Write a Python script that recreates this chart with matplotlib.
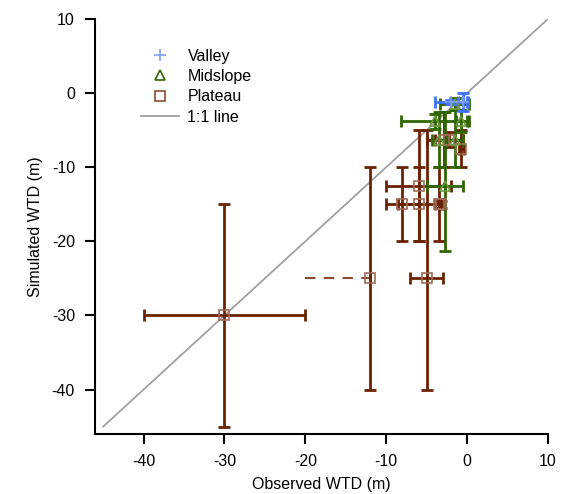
import numpy as np
import matplotlib
matplotlib.use("Agg")
import matplotlib.pyplot as plt
from matplotlib.lines import Line2D

plt.rcParams['font.family'] = ['Liberation Sans', 'DejaVu Sans']
plt.rcParams['axes.unicode_minus'] = False

# Valley sites: observed, simulated, x error, y error
valley_obs = [-2.0, -0.5]
valley_sim = [-1.2, -1.2]
valley_xerr = [2.0, 0.6]
valley_yerr = [0.3, 1.2]

# Midslope sites
mid_obs = [-4.0, -0.7, -1.5, -2.7, -3.5, -1.5]
mid_sim = [-3.8, -3.8, -1.5, -12.5, -6.3, -6.3]
mid_xerr = [4.2, 0.7, 1.8, 2.2, 0.8, 1.0]
mid_yerr_lo = [1.0, 1.5, 0.8, 8.8, 3.7, 3.7]
mid_yerr_hi = [1.0, 1.5, 0.8, 10.0, 3.7, 4.0]

# Plateau sites
plat_obs = [-30, -12, -5, -8, -6, -6, -3.5, -3.2, -2.8, -2.2, -0.7]
plat_sim = [-30, -25, -25, -15, -15, -12.5, -15, -15, -6.3, -6.3, -7.5]
plat_xerr = [10, 0, 2, 2, 2.5, 4, 0.4, 0.3, 2.2, 1.7, 0.3]
plat_yerr_lo = [15, 15, 15, 5, 5, 7.5, 5, 0.5, 3.7, 1.0, 2.5]
plat_yerr_hi = [15, 15, 20, 5, 5, 7.5, 5, 0.5, 3.7, 1.0, 2.5]

# open-ended observed range for one plateau site
dash_x = [-20, -12]
dash_y = [-25, -25]

one_to_one = [-45, 10]

c_valley = '#3f72ff'
c_mid = '#2f6600'
c_plat = '#6a2200'

fig = plt.figure(figsize=(5.66, 4.94), dpi=100)
ax = fig.add_axes([0.168, 0.1215, 0.8, 0.84])

ax.plot(one_to_one, one_to_one, color='#a0a0a0', lw=1.3, zorder=1)

ax.plot(dash_x, dash_y, color='#8a4a30', lw=1.5, ls=(0, (5, 4)), zorder=2)

ax.errorbar(plat_obs, plat_sim, xerr=plat_xerr, yerr=[plat_yerr_lo, plat_yerr_hi],
            fmt='none', ecolor=c_plat, elinewidth=2, capsize=4.5, capthick=2, zorder=3)
ax.plot(plat_obs, plat_sim, 's', ms=7, mfc='none', mec='#a06a58', mew=1.2, zorder=4)

ax.errorbar(mid_obs, mid_sim, xerr=mid_xerr, yerr=[mid_yerr_lo, mid_yerr_hi],
            fmt='none', ecolor=c_mid, elinewidth=2, capsize=4.5, capthick=2, zorder=3)
ax.plot(mid_obs, mid_sim, '^', ms=7, mfc='none', mec='#6a9a40', mew=1.2, zorder=4)

ax.errorbar(valley_obs, valley_sim, xerr=valley_xerr, yerr=valley_yerr,
            fmt='none', ecolor=c_valley, elinewidth=2, capsize=4.5, capthick=2, zorder=3)
ax.plot(valley_obs, valley_sim, '+', ms=8, color='#7f9fff', mew=1.2, zorder=4)

ax.set_xlim(-46, 10)
ax.set_ylim(-46, 10)
ax.set_xticks([-40, -30, -20, -10, 0, 10])
ax.set_yticks([-40, -30, -20, -10, 0, 10])
ax.spines['top'].set_visible(False)
ax.spines['right'].set_visible(False)
for s in ['left', 'bottom']:
    ax.spines[s].set_linewidth(1.5)
ax.tick_params(direction='out', length=7.5, width=1.5, labelsize=11.5, pad=7)

ax.set_xlabel('Observed WTD (m)', fontsize=11.5, labelpad=6)
ax.set_ylabel('Simulated WTD (m)', fontsize=11.5, labelpad=6)

handles = [
    Line2D([], [], ls='none', marker='+', ms=8, color='#7f9fff', mew=1.2),
    Line2D([], [], ls='none', marker='^', ms=7, mfc='none', mec=c_mid, mew=1.2),
    Line2D([], [], ls='none', marker='s', ms=7, mfc='none', mec='#8a4a30', mew=1.2),
    Line2D([], [], color='#a0a0a0', lw=1.3),
]
ax.legend(handles, ['Valley', 'Midslope', 'Plateau', '1:1 line'], loc='upper left',
          bbox_to_anchor=(0.07, 0.963), frameon=False, fontsize=11.5,
          handlelength=2.4, labelspacing=0.33, handletextpad=0.5)

fig.savefig('out.png', dpi=100)
